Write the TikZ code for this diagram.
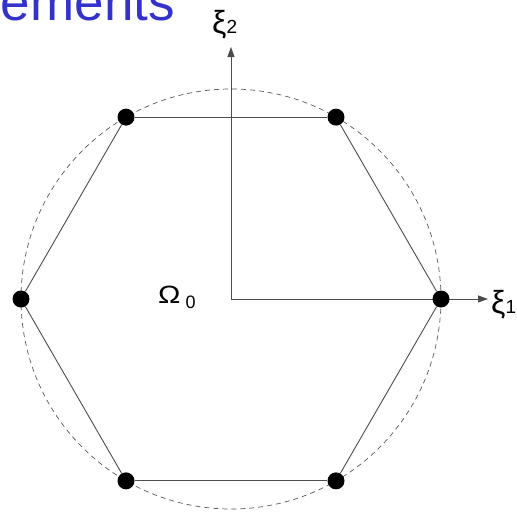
\documentclass[tikz,border=0pt]{standalone}
\usepackage{fontspec}
\setmainfont{Liberation Sans}
\usetikzlibrary{arrows.meta,calc}
\definecolor{titleblue}{RGB}{51,51,204}
\tikzset{
  vertex/.style={circle, fill=black, inner sep=0pt, minimum size=17pt},
  edge/.style={draw=black!70, line width=0.9pt},
  axis/.style={draw=black!70, line width=0.9pt, -{Triangle[length=10pt,width=7pt]}},
  label/.style={inner sep=0pt, anchor=base west, font=\fontsize{32}{32}\selectfont}
}
\begin{document}
\begin{tikzpicture}[x=1pt,y=-1pt]
  \useasboundingbox (0,0) rectangle (517,517);
  \clip (0,0) rectangle (517,517);
  \node[anchor=base east, inner sep=0pt, text=titleblue, font=\fontsize{53}{53}\selectfont] (title) at (175,20.5) {ements};

  % reference circle
  \draw[black!65, line width=0.7pt, dash pattern=on 5pt off 4pt] (231,299) circle [radius=210pt];

  % local axes
  \coordinate (o) at (231,299);
  \coordinate (e1) at (488,299);
  \coordinate (e2) at (231,47);
  \draw[axis] (o) -- (e1);
  \draw[axis] (o) -- (e2);
  \node[label] (xi1) at (491,313) {ξ{\fontsize{19}{19}\selectfont 1}};
  \node[label] (xi2) at (212,33) {ξ{\fontsize{19}{19}\selectfont 2}};
  \node[anchor=base west, inner sep=0pt, font=\fontsize{25}{25}\selectfont] (omega) at (158,303) {\scalebox{1.2}[1]{Ω}\hspace{5pt}\raisebox{-5pt}{\fontsize{18}{18}\selectfont 0}};

  % nodes of the hexagon
  \foreach \a [count=\i] in {0,60,120,180,240,300}
    \node[vertex] (v\i) at ($(o)+(\a:210pt)$) {};
  \foreach \i/\j in {1/2,2/3,3/4,4/5,5/6,6/1}
    \draw[edge] (v\i) -- (v\j);
\end{tikzpicture}
\end{document}
